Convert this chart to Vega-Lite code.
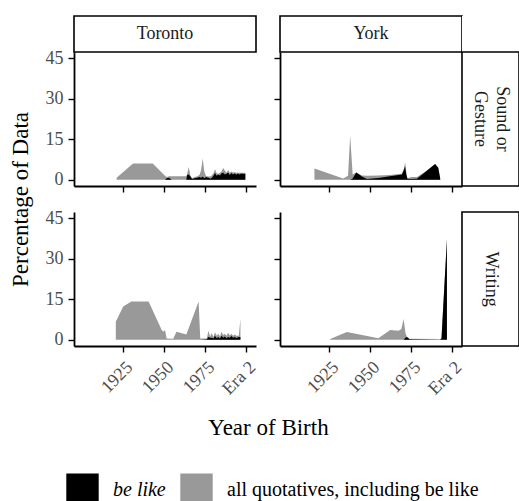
{
  "$schema": "https://vega.github.io/schema/vega-lite/v6.json",
  "padding": {"left": 9, "top": 15, "right": 0, "bottom": 0},
  "background": "white",
  "datasets": {
    "quotes": [
      {"city": "Toronto", "mode": "Sound or Gesture", "year": 1921, "all": 0.8, "bl": 0},
      {"city": "Toronto", "mode": "Sound or Gesture", "year": 1931, "all": 6, "bl": 0},
      {"city": "Toronto", "mode": "Sound or Gesture", "year": 1943, "all": 6, "bl": 0},
      {"city": "Toronto", "mode": "Sound or Gesture", "year": 1950.5, "all": 1.5, "bl": 0},
      {"city": "Toronto", "mode": "Sound or Gesture", "year": 1951.5, "all": 1, "bl": 0.6},
      {"city": "Toronto", "mode": "Sound or Gesture", "year": 1953, "all": 1.3, "bl": 0.8},
      {"city": "Toronto", "mode": "Sound or Gesture", "year": 1954.5, "all": 1.3, "bl": 0},
      {"city": "Toronto", "mode": "Sound or Gesture", "year": 1963.5, "all": 1.3, "bl": 0},
      {"city": "Toronto", "mode": "Sound or Gesture", "year": 1964, "all": 2.2, "bl": 1.8},
      {"city": "Toronto", "mode": "Sound or Gesture", "year": 1965, "all": 4.7, "bl": 2},
      {"city": "Toronto", "mode": "Sound or Gesture", "year": 1966, "all": 1.5, "bl": 1.2},
      {"city": "Toronto", "mode": "Sound or Gesture", "year": 1967, "all": 0.6, "bl": 0.3},
      {"city": "Toronto", "mode": "Sound or Gesture", "year": 1968.5, "all": 1, "bl": 0.6},
      {"city": "Toronto", "mode": "Sound or Gesture", "year": 1970, "all": 1.2, "bl": 0.8},
      {"city": "Toronto", "mode": "Sound or Gesture", "year": 1971.5, "all": 1.8, "bl": 1},
      {"city": "Toronto", "mode": "Sound or Gesture", "year": 1972.5, "all": 3.5, "bl": 0.8},
      {"city": "Toronto", "mode": "Sound or Gesture", "year": 1973.5, "all": 7.9, "bl": 1.2},
      {"city": "Toronto", "mode": "Sound or Gesture", "year": 1974.5, "all": 3, "bl": 0.6},
      {"city": "Toronto", "mode": "Sound or Gesture", "year": 1975.5, "all": 1.4, "bl": 1},
      {"city": "Toronto", "mode": "Sound or Gesture", "year": 1977, "all": 1.2, "bl": 0.8},
      {"city": "Toronto", "mode": "Sound or Gesture", "year": 1978.5, "all": 1.3, "bl": 0.4},
      {"city": "Toronto", "mode": "Sound or Gesture", "year": 1980, "all": 2.3, "bl": 1.4},
      {"city": "Toronto", "mode": "Sound or Gesture", "year": 1981, "all": 3.9, "bl": 2.5},
      {"city": "Toronto", "mode": "Sound or Gesture", "year": 1982, "all": 2.4, "bl": 1.5},
      {"city": "Toronto", "mode": "Sound or Gesture", "year": 1983, "all": 2.2, "bl": 2},
      {"city": "Toronto", "mode": "Sound or Gesture", "year": 1984, "all": 2.6, "bl": 1.6},
      {"city": "Toronto", "mode": "Sound or Gesture", "year": 1985, "all": 3.2, "bl": 2.4},
      {"city": "Toronto", "mode": "Sound or Gesture", "year": 1986, "all": 4.4, "bl": 2.6},
      {"city": "Toronto", "mode": "Sound or Gesture", "year": 1987, "all": 3.4, "bl": 2},
      {"city": "Toronto", "mode": "Sound or Gesture", "year": 1988, "all": 2.6, "bl": 2.2},
      {"city": "Toronto", "mode": "Sound or Gesture", "year": 1989, "all": 3.6, "bl": 2.7},
      {"city": "Toronto", "mode": "Sound or Gesture", "year": 1990, "all": 2.6, "bl": 1.8},
      {"city": "Toronto", "mode": "Sound or Gesture", "year": 1991, "all": 3.1, "bl": 2.5},
      {"city": "Toronto", "mode": "Sound or Gesture", "year": 1992, "all": 2.7, "bl": 2},
      {"city": "Toronto", "mode": "Sound or Gesture", "year": 1993, "all": 2.8, "bl": 2.4},
      {"city": "Toronto", "mode": "Sound or Gesture", "year": 1994, "all": 2.6, "bl": 1.9},
      {"city": "Toronto", "mode": "Sound or Gesture", "year": 1995, "all": 2.7, "bl": 2.3},
      {"city": "Toronto", "mode": "Sound or Gesture", "year": 1996, "all": 2.6, "bl": 2},
      {"city": "Toronto", "mode": "Sound or Gesture", "year": 1997, "all": 2.6, "bl": 2.3},
      {"city": "Toronto", "mode": "Sound or Gesture", "year": 1998, "all": 2.6, "bl": 2.1},
      {"city": "Toronto", "mode": "Sound or Gesture", "year": 1999.5, "all": 2.6, "bl": 2.2},

      {"city": "York", "mode": "Sound or Gesture", "year": 1916, "all": 4.2, "bl": 0},
      {"city": "York", "mode": "Sound or Gesture", "year": 1933.5, "all": 0.5, "bl": 0},
      {"city": "York", "mode": "Sound or Gesture", "year": 1936.5, "all": 1.5, "bl": 0},
      {"city": "York", "mode": "Sound or Gesture", "year": 1937.8, "all": 16.4, "bl": 0},
      {"city": "York", "mode": "Sound or Gesture", "year": 1939.3, "all": 2, "bl": 0.5},
      {"city": "York", "mode": "Sound or Gesture", "year": 1941.5, "all": 2.7, "bl": 2.7},
      {"city": "York", "mode": "Sound or Gesture", "year": 1945, "all": 1.6, "bl": 1.2},
      {"city": "York", "mode": "Sound or Gesture", "year": 1948, "all": 1.5, "bl": 0.3},
      {"city": "York", "mode": "Sound or Gesture", "year": 1955, "all": 1.6, "bl": 0.7},
      {"city": "York", "mode": "Sound or Gesture", "year": 1962, "all": 1.8, "bl": 1.3},
      {"city": "York", "mode": "Sound or Gesture", "year": 1969.3, "all": 2.2, "bl": 2},
      {"city": "York", "mode": "Sound or Gesture", "year": 1970.5, "all": 4, "bl": 3.5},
      {"city": "York", "mode": "Sound or Gesture", "year": 1971.3, "all": 6.4, "bl": 5},
      {"city": "York", "mode": "Sound or Gesture", "year": 1972, "all": 3, "bl": 2},
      {"city": "York", "mode": "Sound or Gesture", "year": 1972.7, "all": 0.6, "bl": 0.4},
      {"city": "York", "mode": "Sound or Gesture", "year": 1975, "all": 1, "bl": 0.3},
      {"city": "York", "mode": "Sound or Gesture", "year": 1978.5, "all": 1, "bl": 0.4},
      {"city": "York", "mode": "Sound or Gesture", "year": 1984, "all": 3.2, "bl": 3.1},
      {"city": "York", "mode": "Sound or Gesture", "year": 1989.6, "all": 5.8, "bl": 5.8},
      {"city": "York", "mode": "Sound or Gesture", "year": 1991.5, "all": 4.5, "bl": 4.5},
      {"city": "York", "mode": "Sound or Gesture", "year": 1992.7, "all": 0.5, "bl": 0.5},

      {"city": "Toronto", "mode": "Writing", "year": 1920.5, "all": 6.7, "bl": 0},
      {"city": "Toronto", "mode": "Writing", "year": 1925, "all": 12.3, "bl": 0},
      {"city": "Toronto", "mode": "Writing", "year": 1930, "all": 14.2, "bl": 0},
      {"city": "Toronto", "mode": "Writing", "year": 1940.5, "all": 14.2, "bl": 0},
      {"city": "Toronto", "mode": "Writing", "year": 1948.5, "all": 3.6, "bl": 0},
      {"city": "Toronto", "mode": "Writing", "year": 1949.5, "all": 3, "bl": 0},
      {"city": "Toronto", "mode": "Writing", "year": 1950.5, "all": 3.6, "bl": 0},
      {"city": "Toronto", "mode": "Writing", "year": 1951.5, "all": 0.5, "bl": 0},
      {"city": "Toronto", "mode": "Writing", "year": 1955.5, "all": 0.4, "bl": 0},
      {"city": "Toronto", "mode": "Writing", "year": 1957.5, "all": 3, "bl": 0},
      {"city": "Toronto", "mode": "Writing", "year": 1963.5, "all": 2, "bl": 0},
      {"city": "Toronto", "mode": "Writing", "year": 1971, "all": 14.2, "bl": 0},
      {"city": "Toronto", "mode": "Writing", "year": 1972, "all": 0.5, "bl": 0},
      {"city": "Toronto", "mode": "Writing", "year": 1976, "all": 0.5, "bl": 0.2},
      {"city": "Toronto", "mode": "Writing", "year": 1977, "all": 3.3, "bl": 1},
      {"city": "Toronto", "mode": "Writing", "year": 1978, "all": 1.2, "bl": 0.8},
      {"city": "Toronto", "mode": "Writing", "year": 1979, "all": 2.5, "bl": 0.8},
      {"city": "Toronto", "mode": "Writing", "year": 1980, "all": 1, "bl": 0.5},
      {"city": "Toronto", "mode": "Writing", "year": 1981, "all": 2.8, "bl": 1.5},
      {"city": "Toronto", "mode": "Writing", "year": 1982, "all": 1.5, "bl": 0.6},
      {"city": "Toronto", "mode": "Writing", "year": 1983, "all": 2.2, "bl": 1},
      {"city": "Toronto", "mode": "Writing", "year": 1984, "all": 1.2, "bl": 0.5},
      {"city": "Toronto", "mode": "Writing", "year": 1985, "all": 3, "bl": 1.5},
      {"city": "Toronto", "mode": "Writing", "year": 1986, "all": 1.8, "bl": 0.8},
      {"city": "Toronto", "mode": "Writing", "year": 1987, "all": 2.2, "bl": 1.2},
      {"city": "Toronto", "mode": "Writing", "year": 1988, "all": 1.5, "bl": 0.6},
      {"city": "Toronto", "mode": "Writing", "year": 1989, "all": 2.6, "bl": 1},
      {"city": "Toronto", "mode": "Writing", "year": 1990, "all": 1.6, "bl": 0.8},
      {"city": "Toronto", "mode": "Writing", "year": 1991, "all": 2.2, "bl": 1.4},
      {"city": "Toronto", "mode": "Writing", "year": 1992, "all": 1.5, "bl": 0.8},
      {"city": "Toronto", "mode": "Writing", "year": 1993, "all": 2, "bl": 1},
      {"city": "Toronto", "mode": "Writing", "year": 1994, "all": 1.5, "bl": 0.7},
      {"city": "Toronto", "mode": "Writing", "year": 1995.5, "all": 1.5, "bl": 1},
      {"city": "Toronto", "mode": "Writing", "year": 1996.5, "all": 7.7, "bl": 1},

      {"city": "York", "mode": "Writing", "year": 1925.6, "all": 0.3, "bl": 0},
      {"city": "York", "mode": "Writing", "year": 1935.8, "all": 2.9, "bl": 0},
      {"city": "York", "mode": "Writing", "year": 1955, "all": 0.6, "bl": 0},
      {"city": "York", "mode": "Writing", "year": 1962.2, "all": 3.6, "bl": 0},
      {"city": "York", "mode": "Writing", "year": 1967.3, "all": 3.3, "bl": 0},
      {"city": "York", "mode": "Writing", "year": 1969, "all": 4, "bl": 0},
      {"city": "York", "mode": "Writing", "year": 1970.4, "all": 7.7, "bl": 0},
      {"city": "York", "mode": "Writing", "year": 1971.5, "all": 2.5, "bl": 0.8},
      {"city": "York", "mode": "Writing", "year": 1972.4, "all": 1.1, "bl": 1},
      {"city": "York", "mode": "Writing", "year": 1974, "all": 0.4, "bl": 0.2},
      {"city": "York", "mode": "Writing", "year": 1992.7, "all": 0.3, "bl": 0},
      {"city": "York", "mode": "Writing", "year": 1993.5, "all": 0.6, "bl": 0.6},
      {"city": "York", "mode": "Writing", "year": 1996.8, "all": 37.1, "bl": 37.1}
    ]
  },
  "config": {
    "font": "Liberation Serif",
    "view": {"stroke": null},
    "axis": {
      "grid": false,
      "domainColor": "black",
      "domainWidth": 1.8,
      "tickColor": "black",
      "tickWidth": 1.4,
      "tickSize": 6,
      "labelColor": "#4d4d4d",
      "labelFont": "Liberation Serif",
      "labelFontSize": 18,
      "labelPadding": 5,
      "title": null,
      "titleFont": "Liberation Serif",
      "titleFontWeight": "normal",
      "titleColor": "black",
      "titleFontSize": 23,
      "titleLimit": 600
    },
    "legend": {
      "layout": {"bottom": {"anchor": "middle", "offset": 34}}
    }
  },
  "spacing": 0,
  "bounds": "flush",
  "columns": 4,
  "concat": [
    {
      "width": 182, "height": 36,
      "view": {"stroke": "black", "strokeWidth": 1.6, "fill": "white"},
      "data": {"values": [{"label": "Toronto"}]},
      "mark": {"type": "text", "fontSize": 18, "color": "#1a1a1a"},
      "encoding": {"text": {"field": "label"}}
    },
    {"width": 24, "height": 36, "data": {"values": [{}]}, "mark": {"type": "text", "text": ""}},
    {
      "width": 182, "height": 36,
      "view": {"stroke": "black", "strokeWidth": 1.6, "fill": "white"},
      "data": {"values": [{"label": "York"}]},
      "mark": {"type": "text", "fontSize": 18, "color": "#1a1a1a"},
      "encoding": {"text": {"field": "label"}}
    },
    {"width": 73, "height": 36, "view": {"fill": "white"}, "data": {"values": [{}]}, "mark": {"type": "text", "text": ""}},

    {
      "width": 182, "height": 134,
      "data": {"name": "quotes"},
      "transform": [{"filter": "datum.city == 'Toronto' && datum.mode == 'Sound or Gesture'"}],
      "encoding": {
        "x": {"field": "year", "type": "quantitative", "scale": {"domain": [1895, 2006], "nice": false, "zero": false},
              "axis": {"values": [1925, 1950, 1975, 2000], "labels": false}}
      },
      "layer": [
        {"mark": {"type": "area", "interpolate": "linear"},
         "encoding": {"y": {"field": "all", "type": "quantitative", "stack": null, "scale": {"domain": [-2.3, 47.3], "nice": false}, "axis": {"values": [0, 15, 30, 45]}},
                      "color": {"datum": "all quotatives, including be like",
                                "scale": {"domain": ["be like", "all quotatives, including be like"], "range": ["#000000", "#999999"]},
                                "legend": {"title": null, "orient": "bottom", "direction": "horizontal", "symbolType": "square", "symbolSize": 1050, "symbolStrokeWidth": 0, "labelFontSize": 20, "labelFont": "Liberation Serif", "labelColor": "black", "labelLimit": 400, "labelOffset": 14, "columnPadding": 14, "offset": 34, "labelFontStyle": {"expr": "datum.label == 'be like' ? 'italic' : 'normal'"}}}}},
        {"mark": {"type": "area", "interpolate": "linear"},
         "encoding": {"y": {"field": "bl", "type": "quantitative", "stack": null},
                      "color": {"datum": "be like"}}}
      ]
    },
    {"width": 1, "height": 134, "data": {"values": [{}]}, "mark": {"type": "text", "text": ""}},
    {
      "width": 182, "height": 134,
      "data": {"name": "quotes"},
      "transform": [{"filter": "datum.city == 'York' && datum.mode == 'Sound or Gesture'"}],
      "encoding": {
        "x": {"field": "year", "type": "quantitative", "scale": {"domain": [1895, 2006], "nice": false, "zero": false},
              "axis": {"values": [1925, 1950, 1975, 2000], "labels": false}}
      },
      "layer": [
        {"mark": {"type": "area", "interpolate": "linear"},
         "encoding": {"y": {"field": "all", "type": "quantitative", "stack": null, "scale": {"domain": [-2.3, 47.3], "nice": false}, "axis": {"values": [0, 15, 30, 45], "labels": false}},
                      "color": {"datum": "all quotatives, including be like"}}},
        {"mark": {"type": "area", "interpolate": "linear"},
         "encoding": {"y": {"field": "bl", "type": "quantitative", "stack": null},
                      "color": {"datum": "be like"}}}
      ]
    },
    {
      "width": 57, "height": 134,
      "view": {"stroke": "black", "strokeWidth": 1.6, "fill": "white"},
      "data": {"values": [{"label": ["Sound or", "Gesture"]}]},
      "mark": {"type": "text", "fontSize": 18, "angle": 90, "lineHeight": 22, "dy": -11, "color": "#1a1a1a"},
      "encoding": {"text": {"field": "label"}}
    },

    {
      "width": 182, "height": 26,
      "data": {"values": [{}]},
      "mark": {"type": "text", "text": ""},
      "encoding": {"y": {"datum": 0, "type": "quantitative",
                         "axis": {"title": "Percentage of Data", "labels": false, "ticks": false, "domain": false, "titlePadding": 42}}}
    },
    {"width": 1, "height": 26, "data": {"values": [{}]}, "mark": {"type": "text", "text": ""}},
    {"width": 1, "height": 26, "data": {"values": [{}]}, "mark": {"type": "text", "text": ""}},
    {"width": 1, "height": 26, "data": {"values": [{}]}, "mark": {"type": "text", "text": ""}},

    {
      "width": 182, "height": 134,
      "data": {"name": "quotes"},
      "transform": [{"filter": "datum.city == 'Toronto' && datum.mode == 'Writing'"}],
      "encoding": {
        "x": {"field": "year", "type": "quantitative", "scale": {"domain": [1895, 2006], "nice": false, "zero": false},
              "axis": {"values": [1925, 1950, 1975, 2000], "format": "d", "labelExpr": "datum.value == 2000 ? 'Era 2' : datum.label", "labelAngle": -45, "labelAlign": "right", "labelBaseline": "top", "labelPadding": 6, "labelOffset": 0}}
      },
      "layer": [
        {"mark": {"type": "area", "interpolate": "linear"},
         "encoding": {"y": {"field": "all", "type": "quantitative", "stack": null, "scale": {"domain": [-2.3, 47.3], "nice": false}, "axis": {"values": [0, 15, 30, 45]}},
                      "color": {"datum": "all quotatives, including be like"}}},
        {"mark": {"type": "area", "interpolate": "linear"},
         "encoding": {"y": {"field": "bl", "type": "quantitative", "stack": null},
                      "color": {"datum": "be like"}}}
      ]
    },
    {
      "width": 24, "height": 134,
      "data": {"values": [{}]},
      "mark": {"type": "text", "text": ""},
      "encoding": {"x": {"datum": 0, "type": "quantitative",
                         "axis": {"title": "Year of Birth", "labels": false, "ticks": false, "domain": false, "titlePadding": 70}}}
    },
    {
      "width": 182, "height": 134,
      "data": {"name": "quotes"},
      "transform": [{"filter": "datum.city == 'York' && datum.mode == 'Writing'"}],
      "encoding": {
        "x": {"field": "year", "type": "quantitative", "scale": {"domain": [1895, 2006], "nice": false, "zero": false},
              "axis": {"values": [1925, 1950, 1975, 2000], "format": "d", "labelExpr": "datum.value == 2000 ? 'Era 2' : datum.label", "labelAngle": -45, "labelAlign": "right", "labelBaseline": "top", "labelPadding": 6, "labelOffset": 0}}
      },
      "layer": [
        {"mark": {"type": "area", "interpolate": "linear"},
         "encoding": {"y": {"field": "all", "type": "quantitative", "stack": null, "scale": {"domain": [-2.3, 47.3], "nice": false}, "axis": {"values": [0, 15, 30, 45], "labels": false}},
                      "color": {"datum": "all quotatives, including be like"}}},
        {"mark": {"type": "area", "interpolate": "linear"},
         "encoding": {"y": {"field": "bl", "type": "quantitative", "stack": null},
                      "color": {"datum": "be like"}}}
      ]
    },
    {
      "width": 57, "height": 134,
      "view": {"stroke": "black", "strokeWidth": 1.6, "fill": "white"},
      "data": {"values": [{"label": "Writing"}]},
      "mark": {"type": "text", "fontSize": 18, "angle": 90, "color": "#1a1a1a"},
      "encoding": {"text": {"field": "label"}}
    }
  ]
}
